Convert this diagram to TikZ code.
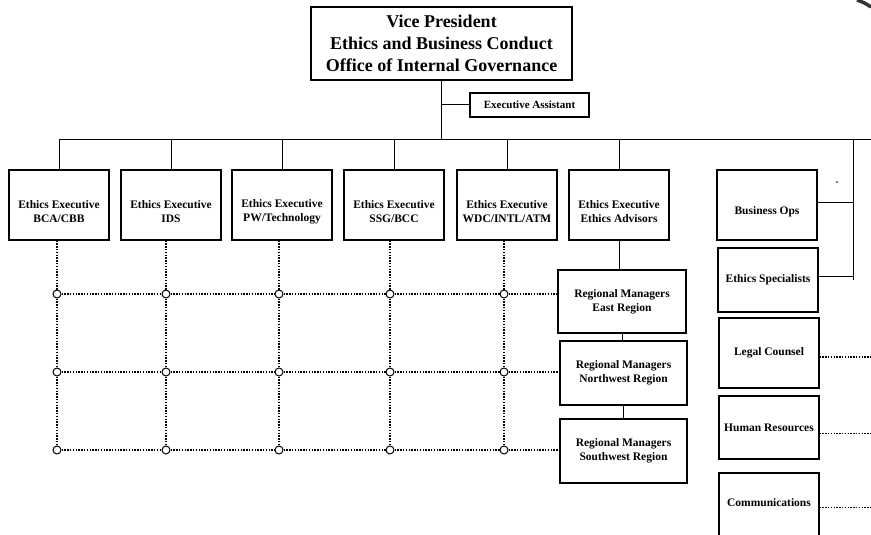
\documentclass[tikz,border=0pt]{standalone}
\usepackage{fontspec}
\setmainfont{Liberation Serif}
\begin{document}
\begin{tikzpicture}[x=1pt,y=-1pt,
  box/.style={draw, line width=1.2pt, inner sep=1pt, align=center, font=\bfseries\fontsize{11.5}{14}\selectfont},
  frame/.style={draw, line width=1.2pt, inner sep=0pt},
  lbl/.style={inner sep=0pt, align=center, font=\bfseries\fontsize{11.5}{14}\selectfont},
  conn/.style={line width=1pt},
  dot/.style={line width=1.5pt, dash pattern=on 1.4pt off 1.4pt},
  hub/.style={circle, draw, line width=1pt, fill=white, inner sep=0pt, minimum size=8pt}
]
\useasboundingbox (0,0) rectangle (871,535);

% top
\node[box, minimum width=261, minimum height=73, font=\bfseries\fontsize{18}{22}\selectfont] (vp) at (441.5,43.5)
  {Vice President\\Ethics and Business Conduct\\Office of Internal Governance};
\node[box, minimum width=119, minimum height=24, font=\bfseries\fontsize{11}{13}\selectfont] (ea) at (529.5,105) {Executive Assistant};

\coordinate (busL) at (59,139);
\coordinate (busR) at (871,139);
\coordinate (rv) at (853,139);
\coordinate (edge) at (871,0);

% executives
\foreach \n/\x/\t in {1/59/{Ethics Executive\\BCA/CBB},2/171/{Ethics Executive\\IDS},3/282/{Ethics Executive\\PW/Technology},4/394/{Ethics Executive\\SSG/BCC},5/507/{Ethics Executive\\WDC/INTL/ATM},6/619/{Ethics Executive\\Ethics Advisors}}{
  \node[frame, minimum width=100, minimum height=70] (e\n) at (\x,205) {};
  \node[lbl] (t\n) at ([yshift=-7pt]e\n.center) {\t};
}

% right column
\node[frame, minimum width=100, minimum height=70] (bo) at (767,205) {};
\node[lbl] (bot) at ([yshift=-7pt]bo.center) {Business Ops};
\node[box, minimum width=100, minimum height=64] (es) at (768,280) {Ethics Specialists};
\node[box, minimum width=100, minimum height=70] (lc) at (769,353) {Legal Counsel};
\node[box, minimum width=100, minimum height=63, inner sep=0pt] (hr) at (769,427.5) {Human Resources};
\node[frame, minimum width=100, minimum height=66] (cm) at (769,506) {};
\node[lbl] (cmt) at (769,503) {Communications};

% regional managers
\node[box, minimum width=128, minimum height=63] (rme) at (622,301.5) {Regional Managers\\East Region};
\node[box, minimum width=127, minimum height=64] (rmn) at (623.5,373) {Regional Managers\\Northwest Region};
\node[box, minimum width=127, minimum height=64] (rms) at (623.5,451) {Regional Managers\\Southwest Region};

% solid connectors
\draw[conn] (vp.south) -- (vp.south |- busL);
\draw[conn] (vp.south |- ea.west) -- (ea.west);
\draw[conn] (busL) -- (busR);
\foreach \n in {1,...,6}{ \draw[conn] (e\n.north |- busL) -- (e\n.north); }
\draw[conn] (rv) -- (rv |- es.east) ;
\draw[conn] ([yshift=3pt]bo.east) -- ([yshift=3pt]bo.east -| rv);
\draw[conn] ([yshift=4pt]es.east) -- ([yshift=4pt]es.east -| rv) -- (rv);
\draw[conn] (e6.south) -- (e6.south |- rme.north);
\draw[conn] (rme.south) -- (rme.south |- rmn.north);
\draw[conn] (rmn.south) -- (rmn.south |- rms.north);

% grid hubs
\foreach \r/\y in {1/294,2/372,3/450}{
  \foreach \c/\x in {1/57,2/166,3/279,4/390,5/504}{
    \node[hub] (g\r\c) at (\x,\y) {};
  }
}
\foreach \c in {1,...,5}{
  \draw[dot] (e\c.south -| g1\c) -- (g1\c) -- (g2\c) -- (g3\c);
}
\draw[dot] (g11) -- (g12) -- (g13) -- (g14) -- (g15) -- (g15 -| rme.west);
\draw[dot] (g21) -- (g22) -- (g23) -- (g24) -- (g25) -- (g25 -| rmn.west);
\draw[dot] (g31) -- (g32) -- (g33) -- (g34) -- (g35) -- (g35 -| rms.west);

% right dotted
\draw[dot] ([yshift=-4pt]lc.east) -- ([yshift=-4pt]lc.east -| edge);
\draw[dot] ([yshift=-6pt]hr.east) -- ([yshift=-6pt]hr.east -| edge);
\draw[dot] ([yshift=-1.5pt]cm.east) -- ([yshift=-1.5pt]cm.east -| edge);

% small marks
\fill (837,182) circle (0.8);
\draw[line width=3.5pt, gray!40!black] (857,0) to[bend left=8] (871,7);
\end{tikzpicture}
\end{document}
